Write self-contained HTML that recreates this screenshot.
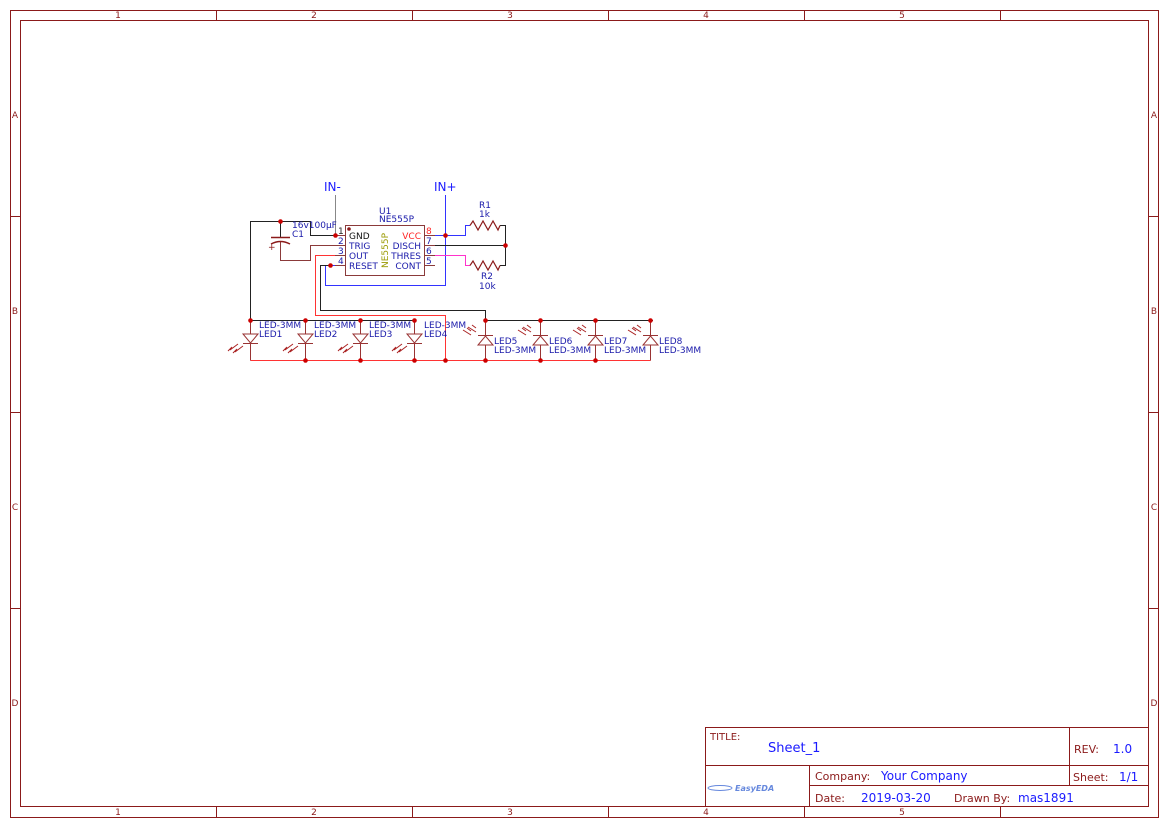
<!DOCTYPE html>
<html><head><meta charset="utf-8"><style>
html,body{margin:0;padding:0;background:#fff;}
svg{display:block;font-family:"DejaVu Sans","Liberation Sans",sans-serif;}
</style></head><body>
<svg width="1169" height="827" viewBox="0 0 1169 827" xmlns="http://www.w3.org/2000/svg">
<g fill="none" stroke="#8b1a1a" stroke-width="1">
<rect x="10.5" y="10.5" width="1148" height="807"/>
<rect x="20.5" y="20.5" width="1128" height="786"/>
<path d="M216.5 10.5V20.5M412.5 10.5V20.5M608.5 10.5V20.5M804.5 10.5V20.5M1000.5 10.5V20.5
M216.5 806.5V817.5M412.5 806.5V817.5M608.5 806.5V817.5M804.5 806.5V817.5M1000.5 806.5V817.5
M10.5 216.5H20.5M10.5 412.5H20.5M10.5 608.5H20.5M1148.5 216.5H1158.5M1148.5 412.5H1158.5M1148.5 608.5H1158.5"/>
<rect x="705.5" y="727.5" width="443" height="79"/>
<path d="M705.5 765.5H1148.5M809.5 785.5H1148.5M809.5 765.5V806.5M1069.5 727.5V785.5"/>
</g>
<g fill="#8b1a1a" font-size="9" text-anchor="middle">
<text x="118" y="18">1</text><text x="314" y="18">2</text><text x="510" y="18">3</text><text x="706" y="18">4</text><text x="902" y="18">5</text>
<text x="118" y="815">1</text><text x="314" y="815">2</text><text x="510" y="815">3</text><text x="706" y="815">4</text><text x="902" y="815">5</text>
<text x="15" y="118">A</text><text x="15" y="314">B</text><text x="15" y="510">C</text><text x="15" y="706">D</text>
<text x="1154" y="118">A</text><text x="1154" y="314">B</text><text x="1154" y="510">C</text><text x="1154" y="706">D</text>
</g>
<g font-size="11">
<text x="710" y="740" fill="#8b1a1a" font-size="10">TITLE:</text>
<text x="768" y="752" fill="#1a1aff" font-size="13">Sheet_1</text>
<text x="1074" y="753" fill="#8b1a1a">REV:</text><text x="1113" y="753" fill="#1a1aff" font-size="12">1.0</text>
<text x="815" y="780" fill="#8b1a1a">Company:</text><text x="881" y="780" fill="#1a1aff" font-size="12">Your Company</text>
<text x="1073" y="781" fill="#8b1a1a">Sheet:</text><text x="1119" y="781" fill="#1a1aff" font-size="12">1/1</text>
<text x="815" y="802" fill="#8b1a1a">Date:</text><text x="861" y="802" fill="#1a1aff" font-size="12">2019-03-20</text>
<text x="954" y="802" fill="#8b1a1a">Drawn By:</text><text x="1018" y="802" fill="#1a1aff" font-size="12">mas1891</text>
<text x="735" y="791" fill="#6688dd" font-size="8" font-style="italic" font-weight="bold">EasyEDA</text>
<ellipse cx="720" cy="788" rx="12" ry="2.5" fill="none" stroke="#6688dd"/>
</g>

<!-- circuit wires -->
<g fill="none" stroke-width="1">
<path d="M335.5 195V235.5" stroke="#888"/>
<path d="M445.5 195V285.5H325.5V265.5H335" stroke="#3333ff"/>
<path d="M435 235.5H465.5V225.5H470" stroke="#3333ff"/>
<path d="M335 235.5H310.5V221.5H250.5V320.5H414.5" stroke="#222"/>
<path d="M280.5 221.5V237M280.5 242V260.5H310.5V245.5H335" stroke="#8b3a3a"/>
<path d="M280.5 221.5V237" stroke="#222"/>
<path d="M435 245.5H505.5" stroke="#222"/>
<path d="M500 225.5H505.5V265.5H500" stroke="#222"/>
<path d="M435 255.5H465.5V265.5H470" stroke="#ff33cc"/>
<path d="M425 265.5H435" stroke="#222"/>
<path d="M335 255.5H315.5V315.5H445.5V360.5" stroke="#ff3333"/>
<path d="M330 265.5H320.5V310.5H485.5V320.5H653" stroke="#222"/>
<path d="M250.5 360.5H650.5" stroke="#ff3333"/>
</g>
<!-- capacitor -->
<path d="M271 237.5H290" stroke="#8b1a1a" stroke-width="1.5"/>
<path d="M271 244 Q280.5 239 290 244" stroke="#8b1a1a" stroke-width="1.5" fill="none"/>
<text x="268" y="250" fill="#8b1a1a" font-size="9">+</text>
<!-- resistors -->
<g fill="none" stroke="#8b1a1a" stroke-width="1.2">
<path d="M470 225.5L473 221L478 230L483 221L488 230L493 221L498 230L500 225.5"/>
<path d="M470 265.5L473 261L478 270L483 261L488 270L493 261L498 270L500 265.5"/>
</g>
<!-- chip -->
<rect x="345.5" y="225.5" width="79" height="50" fill="#fff" stroke="#8b3a3a"/>
<circle cx="349" cy="229" r="1.8" fill="#8b1a1a"/>
<g stroke="#8b3a3a"><path d="M335 235.5H345M335 245.5H345M335 255.5H345M335 265.5H345M425 235.5H435M425 245.5H435M425 255.5H435M425 265.5H435"/></g>
<g font-size="9" fill="#1a1aaa">
<text x="338" y="234" fill="#222">1</text><text x="338" y="244">2</text><text x="338" y="254">3</text><text x="338" y="264">4</text>
<text x="426" y="234" fill="#ff2222">8</text><text x="426" y="244">7</text><text x="426" y="254">6</text><text x="426" y="264">5</text>
<text x="349" y="239" fill="#111">GND</text><text x="349" y="249">TRIG</text><text x="349" y="259">OUT</text><text x="349" y="269">RESET</text>
<text x="421" y="239" text-anchor="end" fill="#ff2222">VCC</text><text x="421" y="249" text-anchor="end">DISCH</text><text x="421" y="259" text-anchor="end">THRES</text><text x="421" y="269" text-anchor="end">CONT</text>
<text x="379" y="214">U1</text><text x="379" y="222">NE555P</text>
<text transform="translate(388,268) rotate(-90)" fill="#999900">NE555P</text>
<text x="292" y="228">16v100µF</text><text x="292" y="237">C1</text>
<text x="479" y="208">R1</text><text x="479" y="217">1k</text>
<text x="481" y="279">R2</text><text x="479" y="289">10k</text>
</g>
<text x="324" y="191" fill="#1a1aff" font-size="12">IN-</text>
<text x="434" y="191" fill="#1a1aff" font-size="12">IN+</text>
<!-- LEDs 1-4 -->
<g id="l" stroke="#993333" fill="none">
<path d="M250.5 320.5V334M250.5 343V360.5"/>
<path d="M243 334H258L250.5 343Z" fill="#fff"/>
<path d="M243 343.5H258"/>
<path d="M238 344L230 350M232 347L228 351M243 346L235 352M237 349L233 353" stroke="#aa2222"/>
</g>
<use href="#l" x="55"/><use href="#l" x="110"/><use href="#l" x="164"/>
<!-- LEDs 5-8 -->
<g id="r" stroke="#993333" fill="none">
<path d="M485.5 320.5V336M485.5 345V360.5"/>
<path d="M478 345H493L485.5 336Z" fill="#fff"/>
<path d="M478 335.5H493"/>
<path d="M468 327L476 332M472 325L476 328M463 330L471 335M467 328L471 331" stroke="#aa2222"/>
</g>
<use href="#r" x="55"/><use href="#r" x="110"/><use href="#r" x="165"/>
<g font-size="9" fill="#1a1aaa">
<text x="259" y="328">LED-3MM</text><text x="259" y="337">LED1</text>
<text x="314" y="328">LED-3MM</text><text x="314" y="337">LED2</text>
<text x="369" y="328">LED-3MM</text><text x="369" y="337">LED3</text>
<text x="424" y="328">LED-3MM</text><text x="424" y="337">LED4</text>
<text x="494" y="344">LED5</text><text x="494" y="353">LED-3MM</text>
<text x="549" y="344">LED6</text><text x="549" y="353">LED-3MM</text>
<text x="604" y="344">LED7</text><text x="604" y="353">LED-3MM</text>
<text x="659" y="344">LED8</text><text x="659" y="353">LED-3MM</text>
</g>
<!-- junction dots -->
<g fill="#cc0000">
<circle cx="335.5" cy="235.5" r="2.3"/><circle cx="445.5" cy="235.5" r="2.3"/><circle cx="505.5" cy="245.5" r="2.3"/>
<circle cx="280.5" cy="221.5" r="2.3"/><circle cx="330.5" cy="265.5" r="2.3"/>
<circle cx="250.5" cy="320.5" r="2.3"/><circle cx="305.5" cy="320.5" r="2.3"/><circle cx="360.5" cy="320.5" r="2.3"/><circle cx="414.5" cy="320.5" r="2.3"/>
<circle cx="485.5" cy="320.5" r="2.3"/><circle cx="540.5" cy="320.5" r="2.3"/><circle cx="595.5" cy="320.5" r="2.3"/><circle cx="650.5" cy="320.5" r="2.3"/>
<circle cx="305.5" cy="360.5" r="2.3"/><circle cx="360.5" cy="360.5" r="2.3"/><circle cx="414.5" cy="360.5" r="2.3"/><circle cx="445.5" cy="360.5" r="2.3"/>
<circle cx="485.5" cy="360.5" r="2.3"/><circle cx="540.5" cy="360.5" r="2.3"/><circle cx="595.5" cy="360.5" r="2.3"/>
</g>
</svg>
</body></html>
